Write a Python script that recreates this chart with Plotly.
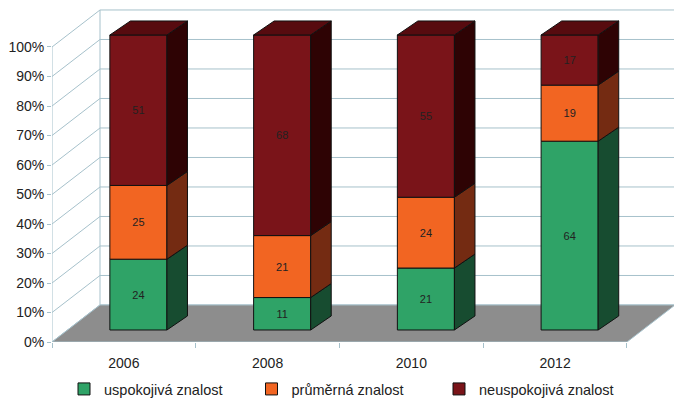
import plotly.graph_objects as go

# ---- data -------------------------------------------------------------
years = ["2006", "2008", "2010", "2012"]
uspokojiva = [24, 11, 21, 64]      # satisfactory knowledge, %
prumerna = [25, 21, 24, 19]        # average knowledge, %
neuspokojiva = [51, 68, 55, 17]    # unsatisfactory knowledge, %
series_names = ["uspokojivá znalost", "průměrná znalost", "neuspokojivá znalost"]
y_tick_values = list(range(0, 101, 10))
y_tick_labels = [f"{v}%" for v in y_tick_values]

# ---- styling ------------------------------------------------------------
front_colors = ["#2fa367", "#f26522", "#7a1419"]
side_colors = ["#174c30", "#742b12", "#2e0304"]
top_colors = ["#1f6a42", "#a8431a", "#570b0f"]
grid_color = "#a6c1cb"
floor_color = "#8d8d8d"
text_color = "#222222"
font_family = "Liberation Sans, Arial, sans-serif"

# pseudo-3D geometry in axis units (x: category units, y: percent)
WALL_DX, WALL_DY = 0.334, 12.55    # depth of the back wall
FACE_DX, FACE_DY = 0.101, 4.07     # bar front face sits this deep
SIDE_DX, SIDE_DY = 0.143, 4.75     # bar depth
BAR_W = 0.397
X_MAX = 4.327
Y_MAX = 115.93

n = len(years)
series = [uspokojiva, prumerna, neuspokojiva]

fig = go.Figure()

# walls: gridlines on the left wall and back wall
grid_path = f"M0,0 L0,100 M{WALL_DX},{WALL_DY} L{WALL_DX},{100 + WALL_DY} "
for v in y_tick_values:
    grid_path += f"M0,{v} L{WALL_DX},{v + WALL_DY} L{X_MAX + 0.2},{v + WALL_DY} "
fig.add_shape(type="path", path=grid_path, xref="x", yref="y", layer="below",
              line=dict(color=grid_color, width=1))

# floor
floor_path = (f"M0,0 L{n},0 L{n + WALL_DX},{WALL_DY} "
              f"L{WALL_DX},{WALL_DY} Z")
fig.add_shape(type="path", path=floor_path, xref="x", yref="y", layer="below",
              fillcolor=floor_color, line=dict(color=grid_color, width=1))

# stacked bar front faces
bar_x = [i + 0.5 + FACE_DX for i in range(n)]
starts = [0.0] * n
stack_bounds = []
for s_idx, (name, vals) in enumerate(zip(series_names, series)):
    bases = [FACE_DY + starts[i] for i in range(n)]
    fig.add_trace(go.Bar(
        x=bar_x, y=vals, base=bases, width=BAR_W, name=name,
        marker=dict(color=front_colors[s_idx], line=dict(color="#111111", width=1)),
        text=[str(v) for v in vals], textposition="inside",
        insidetextanchor="middle", textangle=0, constraintext="none",
        textfont=dict(size=11, color=text_color, family=font_family),
        hoverinfo="skip",
    ))
    stack_bounds.append([(starts[i], starts[i] + vals[i]) for i in range(n)])
    starts = [starts[i] + vals[i] for i in range(n)]

# bar side faces (one polygon per segment) and top faces
for s_idx, bounds in enumerate(stack_bounds):
    xs, ys = [], []
    for i, (lo, hi) in enumerate(bounds):
        xr = bar_x[i] + BAR_W / 2
        y0, y1 = FACE_DY + lo, FACE_DY + hi
        xs += [xr, xr + SIDE_DX, xr + SIDE_DX, xr, xr, None]
        ys += [y0, y0 + SIDE_DY, y1 + SIDE_DY, y1, y0, None]
    fig.add_trace(go.Scatter(
        x=xs, y=ys, mode="lines", fill="toself", fillcolor=side_colors[s_idx],
        line=dict(color="#111111", width=1), showlegend=False, hoverinfo="skip"))

top_series = len(series) - 1
xs, ys = [], []
for i in range(n):
    xl = bar_x[i] - BAR_W / 2
    xr = bar_x[i] + BAR_W / 2
    yt = FACE_DY + starts[i]
    xs += [xl, xl + SIDE_DX, xr + SIDE_DX, xr, xl, None]
    ys += [yt, yt + SIDE_DY, yt + SIDE_DY, yt, yt, None]
fig.add_trace(go.Scatter(
    x=xs, y=ys, mode="lines", fill="toself", fillcolor=top_colors[top_series],
    line=dict(color="#111111", width=1), showlegend=False, hoverinfo="skip"))

fig.update_layout(
    width=674, height=398,
    margin=dict(l=52, r=0, t=0, b=56, autoexpand=False),
    paper_bgcolor="white", plot_bgcolor="white",
    barmode="overlay",
    font=dict(family=font_family, size=14, color=text_color),
    showlegend=True,
    legend=dict(
        orientation="h", xref="container", yref="container",
        x=64 / 674, xanchor="left", y=1 - 373 / 398, yanchor="top",
        entrywidth=142.5, entrywidthmode="pixels",
        font=dict(size=14.5, color=text_color, family=font_family),
        bgcolor="rgba(0,0,0,0)", traceorder="normal",
    ),
    xaxis=dict(
        range=[0, X_MAX], showgrid=False, zeroline=False, showline=False,
        tickmode="array", tickvals=[i + 0.5 for i in range(n)], ticktext=years,
        ticks="", tickfont=dict(size=14, color=text_color),
        ticklabelstandoff=11,
        minor=dict(tickmode="array", tickvals=list(range(n + 1)), ticks="outside",
                   ticklen=5, tickcolor=grid_color, tickwidth=1),
        fixedrange=True, automargin=False,
    ),
    yaxis=dict(
        range=[0, Y_MAX], showgrid=False, zeroline=False, showline=False,
        tickmode="array", tickvals=y_tick_values, ticktext=y_tick_labels,
        ticks="outside", ticklen=4, tickcolor=grid_color, tickwidth=1,
        tickfont=dict(size=14, color=text_color),
        fixedrange=True, automargin=False,
    ),
)

fig.write_html("out.html")
